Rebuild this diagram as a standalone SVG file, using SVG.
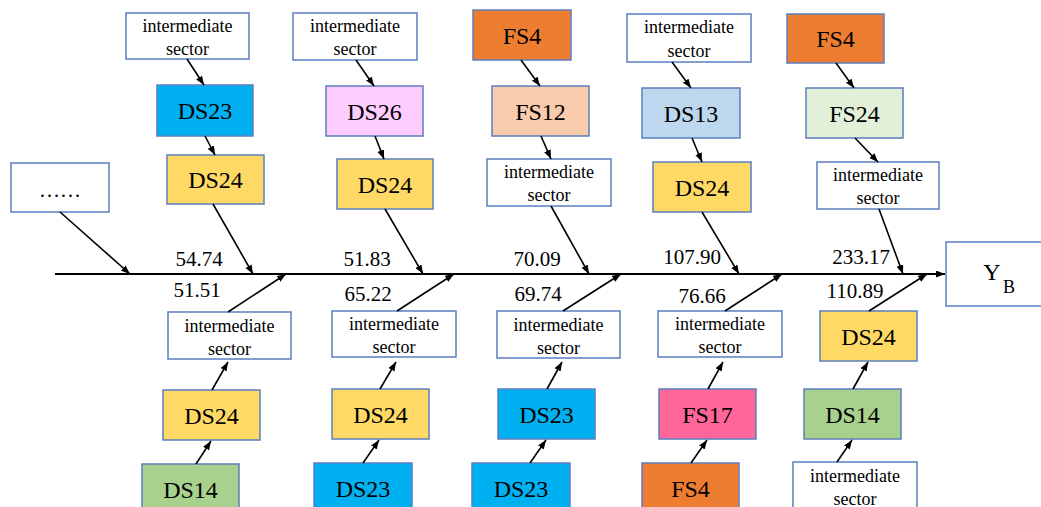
<svg xmlns="http://www.w3.org/2000/svg" width="1041" height="507" viewBox="0 0 1041 507" font-family="'Liberation Serif', 'Times New Roman', serif">
<defs>
<marker id="ah" markerUnits="userSpaceOnUse" markerWidth="10" markerHeight="8" refX="9" refY="3.5" orient="auto">
<path d="M0,0 L9,3.5 L0,7 z" fill="#000"/>
</marker>
<style>
.b{stroke:#5b7fbe;stroke-width:1.5}
.w{fill:#fff}
.ds23{fill:#00b0f0}.ds24{fill:#ffd966}.ds26{fill:#ffccff}.fs4{fill:#ed7d31}.fs12{fill:#f8cbad}
.ds13{fill:#bdd7ee}.fs24{fill:#e2f0d9}.ds14{fill:#a9d18e}.fs17{fill:#ff6699}
text{font-family:"Liberation Serif","Times New Roman",serif;fill:#000;text-anchor:middle}
.n{font-size:24px}
.s{font-size:18px}
.v{font-size:21px}
.c line{stroke:#000;stroke-width:1.6;marker-end:url(#ah)}
</style>
</defs>
<rect width="1041" height="507" fill="#fff"/>

<g id="ellipsis"><rect class="b w" x="11" y="163" width="98" height="49"/><text class="v" x="60" y="197">……</text></g>

<g id="t1a"><rect class="b w" x="126" y="13" width="123" height="46"/><text class="s" x="187.5" y="32">intermediate</text><text class="s" x="187.5" y="55">sector</text></g>
<g id="t1b"><rect class="b ds23" x="157" y="85" width="96" height="51"/><text class="n" x="205" y="119">DS23</text></g>
<g id="t1c"><rect class="b ds24" x="167" y="155" width="97" height="49"/><text class="n" x="215.5" y="188">DS24</text></g>

<g id="t2a"><rect class="b w" x="293" y="13" width="124" height="47"/><text class="s" x="355" y="32">intermediate</text><text class="s" x="355" y="55">sector</text></g>
<g id="t2b"><rect class="b ds26" x="326" y="86" width="97" height="50"/><text class="n" x="374.5" y="119.5">DS26</text></g>
<g id="t2c"><rect class="b ds24" x="337" y="159" width="96" height="50"/><text class="n" x="385" y="192.5">DS24</text></g>

<g id="t3a"><rect class="b fs4" x="473" y="10" width="98" height="50"/><text class="n" x="522" y="43.5">FS4</text></g>
<g id="t3b"><rect class="b fs12" x="492" y="86" width="97" height="50"/><text class="n" x="540.5" y="119.5">FS12</text></g>
<g id="t3c"><rect class="b w" x="487" y="159" width="124" height="47"/><text class="s" x="549" y="178">intermediate</text><text class="s" x="549" y="201">sector</text></g>

<g id="t4a"><rect class="b w" x="627" y="14" width="124" height="48"/><text class="s" x="689" y="33">intermediate</text><text class="s" x="689" y="57">sector</text></g>
<g id="t4b"><rect class="b ds13" x="642" y="88" width="98" height="50"/><text class="n" x="691" y="121.5">DS13</text></g>
<g id="t4c"><rect class="b ds24" x="653" y="162" width="98" height="50"/><text class="n" x="702" y="195.5">DS24</text></g>

<g id="t5a"><rect class="b fs4" x="787" y="14" width="97" height="49"/><text class="n" x="835.5" y="47">FS4</text></g>
<g id="t5b"><rect class="b fs24" x="806" y="88" width="97" height="50"/><text class="n" x="854.5" y="121.5">FS24</text></g>
<g id="t5c"><rect class="b w" x="817" y="162" width="122" height="47"/><text class="s" x="878" y="181">intermediate</text><text class="s" x="878" y="204">sector</text></g>

<g id="b1a"><rect class="b w" x="168" y="312" width="123" height="47"/><text class="s" x="229.5" y="332">intermediate</text><text class="s" x="229.5" y="355">sector</text></g>
<g id="b1b"><rect class="b ds24" x="163" y="390" width="97" height="50"/><text class="n" x="211.5" y="423.5">DS24</text></g>
<g id="b1c"><rect class="b ds14" x="142" y="464" width="97" height="50"/><text class="n" x="190.5" y="497.5">DS14</text></g>

<g id="b2a"><rect class="b w" x="332" y="311" width="124" height="46"/><text class="s" x="394" y="330">intermediate</text><text class="s" x="394" y="353">sector</text></g>
<g id="b2b"><rect class="b ds24" x="332" y="389" width="97" height="50"/><text class="n" x="380.5" y="422.5">DS24</text></g>
<g id="b2c"><rect class="b ds23" x="314" y="463" width="98" height="50"/><text class="n" x="363" y="496.5">DS23</text></g>

<g id="b3a"><rect class="b w" x="497" y="311" width="123" height="47"/><text class="s" x="558.5" y="331">intermediate</text><text class="s" x="558.5" y="354">sector</text></g>
<g id="b3b"><rect class="b ds23" x="498" y="389" width="97" height="50"/><text class="n" x="546.5" y="422.5">DS23</text></g>
<g id="b3c"><rect class="b ds23" x="472" y="463" width="98" height="50"/><text class="n" x="521" y="496.5">DS23</text></g>

<g id="b4a"><rect class="b w" x="658" y="311" width="124" height="46"/><text class="s" x="720" y="330">intermediate</text><text class="s" x="720" y="353">sector</text></g>
<g id="b4b"><rect class="b fs17" x="659" y="389" width="97" height="50"/><text class="n" x="707.5" y="422.5">FS17</text></g>
<g id="b4c"><rect class="b fs4" x="642" y="463" width="97" height="50"/><text class="n" x="690.5" y="496.5">FS4</text></g>

<g id="b5a"><rect class="b ds24" x="820" y="311" width="97" height="50"/><text class="n" x="868.5" y="344.5">DS24</text></g>
<g id="b5b"><rect class="b ds14" x="804" y="389" width="97" height="50"/><text class="n" x="852.5" y="422.5">DS14</text></g>
<g id="b5c"><rect class="b w" x="793" y="462" width="124" height="50"/><text class="s" x="855" y="482">intermediate</text><text class="s" x="855" y="505">sector</text></g>

<g id="yb"><rect class="b w" x="946" y="242" width="100" height="64"/><text x="992" y="280" style="font-size:24px">Y</text><text x="1009" y="293" style="font-size:18px">B</text></g>

<g id="labels">
<text class="v" x="199" y="266">54.74</text>
<text class="v" x="197" y="297">51.51</text>
<text class="v" x="367" y="266">51.83</text>
<text class="v" x="368" y="301">65.22</text>
<text class="v" x="537" y="266">70.09</text>
<text class="v" x="538" y="301">69.74</text>
<text class="v" x="692" y="264">107.90</text>
<text class="v" x="702" y="303">76.66</text>
<text class="v" x="861" y="264">233.17</text>
<text class="v" x="855" y="298">110.89</text>
</g>

<g id="connectors" class="c">
<line x1="55" y1="274" x2="945" y2="274" style="stroke-width:2.2"/>
<line x1="60" y1="212" x2="130" y2="274"/>
<line x1="187" y1="59" x2="204" y2="85"/>
<line x1="205" y1="136" x2="215" y2="155"/>
<line x1="213" y1="204" x2="253" y2="274"/>
<line x1="356" y1="60" x2="374" y2="86"/>
<line x1="375" y1="136" x2="384" y2="159"/>
<line x1="385" y1="209" x2="423" y2="274"/>
<line x1="521" y1="60" x2="540" y2="86"/>
<line x1="541" y1="136" x2="551" y2="159"/>
<line x1="551" y1="206" x2="589" y2="274"/>
<line x1="672" y1="62" x2="691" y2="88"/>
<line x1="692" y1="138" x2="702" y2="162"/>
<line x1="702" y1="212" x2="739" y2="274"/>
<line x1="836" y1="63" x2="854" y2="88"/>
<line x1="855" y1="138" x2="878" y2="162"/>
<line x1="879" y1="209" x2="903" y2="274"/>
<line x1="228" y1="312" x2="286" y2="274"/>
<line x1="212" y1="390" x2="228" y2="362"/>
<line x1="196" y1="464" x2="211" y2="441"/>
<line x1="397" y1="311" x2="454" y2="274"/>
<line x1="380" y1="389" x2="396" y2="362"/>
<line x1="363" y1="463" x2="379" y2="440"/>
<line x1="563" y1="311" x2="621" y2="274"/>
<line x1="547" y1="389" x2="562" y2="362"/>
<line x1="530" y1="463" x2="546" y2="440"/>
<line x1="725" y1="311" x2="782" y2="274"/>
<line x1="708" y1="389" x2="723" y2="362"/>
<line x1="691" y1="463" x2="707" y2="440"/>
<line x1="869" y1="311" x2="927" y2="274"/>
<line x1="853" y1="389" x2="868" y2="362"/>
<line x1="837" y1="462" x2="852" y2="440"/>
</g>
</svg>
